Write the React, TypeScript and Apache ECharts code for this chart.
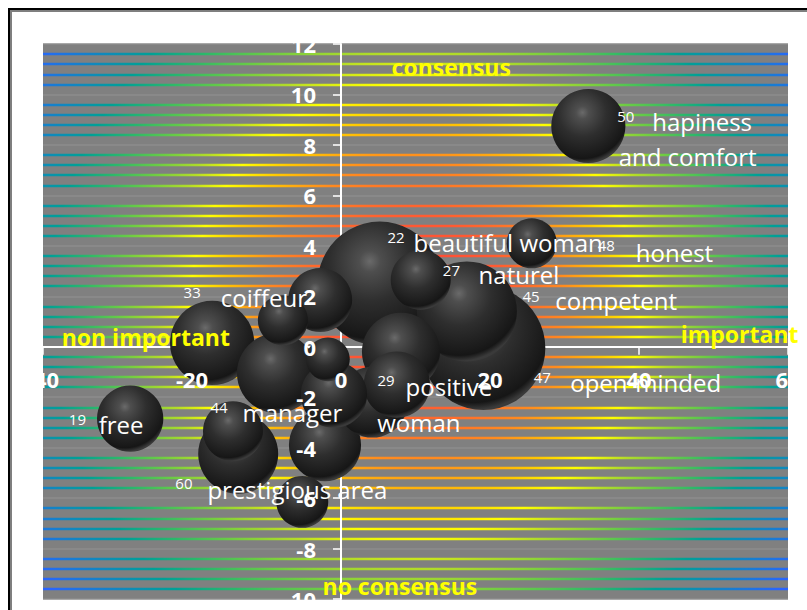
import React, { useEffect, useRef } from "react";
import * as echarts from "echarts";

// Axis scales
const X_MIN = -40;
const X_MAX = 60;
const X_STEP = 20;
const Y_MIN = -10;
const Y_MAX = 12;
const Y_STEP = 2;

// Bubbles (x, y, size) - ordered from biggest to smallest
const bubbleX = [5.2, 19.1, 16.9, -17.3, -8.6, -13.8, 8.05, 33.2, -2.15, 4.2, 7.5, -0.95, -28.3, -2.8, 10.7, -14.5, -5.2, -7.8, 25.6, -1.75];
const bubbleY = [2.5, -0.05, 1.4, 0.15, -1.05, -4.25, -0.2, 8.75, -3.9, -2.2, -1.5, -1.9, -2.85, 1.85, 2.65, -3.35, -6.15, 1.05, 4.1, -0.5];
const bubbleSize = [154, 154, 100, 71, 64, 64, 61, 55, 52, 50, 44, 44, 44, 41, 36, 36, 27, 25, 25, 19];

// Word labels
const wordText = ["hapiness", "and comfort", "beautiful woman", "naturel", "honest", "competent", "open-minded", "positive", "woman", "coiffeur", "free", "manager", "prestigious area"];
const wordX = [41.7, 37.2, 9.66, 18.4, 39.5, 28.7, 30.7, 8.6, 4.8, -16.2, -32.6, -13.3, -18.0];
const wordY = [8.92, 7.53, 4.13, 2.86, 3.73, 1.83, -1.41, -1.57, -3.0, 1.95, -3.07, -2.6, -5.64];

// Count labels
const countText = ["50", "22", "27", "48", "45", "47", "29", "33", "19", "44", "60"];
const countX = [37.0, 6.17, 13.6, 34.4, 24.3, 25.8, 4.83, -21.2, -36.6, -17.6, -22.3];
const countY = [9.15, 4.33, 3.06, 4.05, 2.03, -1.21, -1.33, 2.15, -2.88, -2.4, -5.41];

// Quadrant captions
const quadText = ["consensus", "non important", "important", "no consensus"];
const quadX = [14.8, -26.2, 53.5, 7.9];
const quadY = [11.08, 0.37, 0.5, -9.49];

const FONT = "'Open Sans', 'Noto Sans', sans-serif";

export default function App() {
  const ref = useRef<HTMLDivElement>(null);

  useEffect(() => {
    const chart = echarts.init(ref.current!, null, { renderer: "svg" });

    const grid = { left: 31, top: 32, width: 745, height: 556 };
    const zeroY = grid.top + ((Y_MAX - 0) / (Y_MAX - Y_MIN)) * grid.height;
    const zeroX = grid.left + ((0 - X_MIN) / (X_MAX - X_MIN)) * grid.width;
    const xLabelOffset = -(grid.top + grid.height - zeroY);
    const yLabelOffset = -(zeroX - grid.left);

    const stripeGradient = new echarts.graphic.RadialGradient(
      403,
      298,
      460,
      [
        { offset: 0, color: "#ff3c3c" },
        { offset: 0.2, color: "#ff5a32" },
        { offset: 0.33, color: "#ff8c1e" },
        { offset: 0.42, color: "#ffc800" },
        { offset: 0.49, color: "#ffff00" },
        { offset: 0.56, color: "#b4dc28" },
        { offset: 0.64, color: "#6ccc44" },
        { offset: 0.72, color: "#2cb86a" },
        { offset: 0.8, color: "#00a096" },
        { offset: 0.9, color: "#1482c8" },
        { offset: 1, color: "#2a64ff" },
      ],
      true
    );

    const sphere = new echarts.graphic.RadialGradient(0.42, 0.32, 0.72, [
      { offset: 0, color: "#6a6a6a" },
      { offset: 0.12, color: "#4e4e4e" },
      { offset: 0.45, color: "#2e2e2e" },
      { offset: 0.78, color: "#1b1b1b" },
      { offset: 0.86, color: "#161616" },
      { offset: 0.94, color: "#3a3a3a" },
      { offset: 1, color: "#3a3a3a" },
    ]);

    const baseX = { type: "value", min: X_MIN, max: X_MAX, interval: X_STEP, gridIndex: 0 };
    const baseY = { type: "value", min: Y_MIN, max: Y_MAX, interval: Y_STEP, gridIndex: 0 };

    const textSeries = (data: any[], label: any, clip = true) => ({
      type: "scatter",
      xAxisIndex: 0,
      yAxisIndex: 0,
      z: 12,
      silent: true,
      clip,
      symbolSize: 1,
      itemStyle: { color: "rgba(0,0,0,0)", opacity: 1 },
      data,
      label: { show: true, formatter: "{b}", fontFamily: FONT, opacity: 1, ...label },
    });

    const option: any = {
      animation: false,
      backgroundColor: "#ffffff",
      grid: { ...grid, show: true, backgroundColor: "#808080", borderWidth: 0 },
      xAxis: [
        {
          ...baseX,
          position: "bottom",
          axisLine: { onZero: true, lineStyle: { color: "#ffffff", width: 2 } },
          axisTick: { show: true, length: 8, lineStyle: { color: "#ffffff", width: 1.5 } },
          axisLabel: { show: false },
          splitLine: { show: false },
        },
        {
          ...baseX,
          position: "bottom",
          offset: xLabelOffset,
          z: 10,
          axisLine: { show: false, onZero: false },
          axisTick: { show: false },
          splitLine: { show: false },
          axisLabel: {
            show: true,
            color: "#ffffff",
            fontSize: 22,
            fontWeight: "bold",
            fontFamily: FONT,
            margin: 22,
          },
        },
      ],
      yAxis: [
        {
          ...baseY,
          position: "left",
          axisLine: { onZero: true, lineStyle: { color: "#ffffff", width: 2 } },
          axisTick: { show: true, length: 8, lineStyle: { color: "#ffffff", width: 1.5 } },
          axisLabel: { show: false },
          splitLine: { show: true, lineStyle: { color: "#8c8c8c", width: 1.5 } },
          minorTick: { show: false, splitNumber: 5 },
          minorSplitLine: { show: true, lineStyle: { color: stripeGradient, width: 2.4 } },
        },
        {
          ...baseY,
          position: "left",
          offset: yLabelOffset,
          z: 10,
          axisLine: { show: false, onZero: false },
          axisTick: { show: false },
          splitLine: { show: false },
          axisLabel: {
            show: true,
            color: "#ffffff",
            fontSize: 22,
            fontWeight: "bold",
            fontFamily: FONT,
            margin: 25,
          },
        },
      ],
      series: [
        {
          type: "scatter",
          xAxisIndex: 0,
          yAxisIndex: 0,
          z: 2,
          silent: true,
          data: bubbleX.map((x, i) => [x, bubbleY[i], bubbleSize[i]]),
          symbolSize: (v: number[]) => Math.sqrt(v[2]) * 10,
          itemStyle: { color: sphere, opacity: 1 },
        },
        textSeries(
          wordX.map((x, i) => ({ value: [x, wordY[i]], name: wordText[i] })),
          { position: "right", distance: 0, color: "#ffffff", fontSize: 24 }
        ),
        textSeries(
          countX.map((x, i) => ({ value: [x, countY[i]], name: countText[i] })),
          { position: "right", distance: 0, color: "#ffffff", fontSize: 15 }
        ),
        textSeries(
          quadX.map((x, i) => ({ value: [x, quadY[i]], name: quadText[i] })),
          { position: "inside", color: "#ffff00", fontSize: 23, fontWeight: "bold" },
          false
        ),
      ],
    };

    chart.setOption(option);
    return () => chart.dispose();
  }, []);

  return (
    <div
      style={{
        position: "fixed",
        left: 8,
        top: 8,
        width: 799,
        height: 602,
        boxSizing: "border-box",
        borderTop: "2px solid #000000",
        borderLeft: "2px solid #000000",
        background: "#ffffff",
      }}
    >
      <div
        style={{
          width: 797,
          height: 600,
          boxSizing: "border-box",
          borderTop: "2px solid #7f7f7f",
          borderLeft: "2px solid #7f7f7f",
        }}
      >
        <div ref={ref} style={{ width: 795, height: 598 }} />
      </div>
    </div>
  );
}
